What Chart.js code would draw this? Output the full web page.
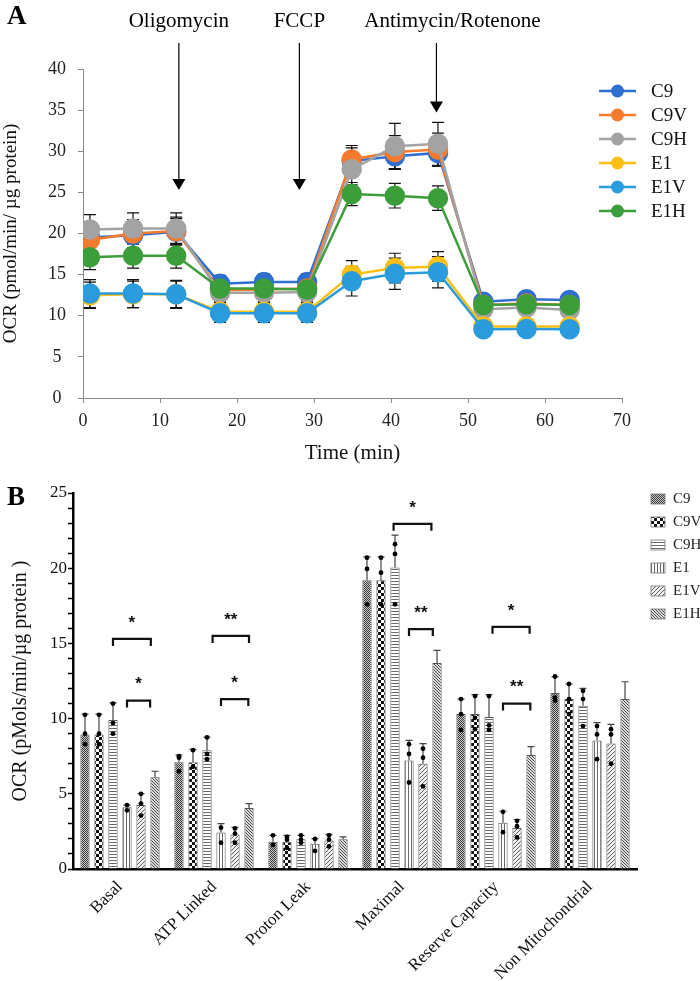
<!DOCTYPE html>
<html>
<head>
<meta charset="utf-8">
<script src="https://cdn.jsdelivr.net/npm/chart.js@4.4.1/dist/chart.umd.min.js"></script>
<style>
  body { margin: 0; background: #fff; }
  canvas { display: block; }
</style>
</head>
<body>
<canvas id="ocrTimeChart" width="700" height="470"></canvas>
<canvas id="ocrBarChart" width="700" height="511"></canvas>
<script>
// ---------- panel A data ----------
const timeMin = [0.9, 6.5, 12.1, 17.8, 23.5, 29.1, 34.9, 40.5, 46.1, 52.0, 57.6, 63.2];
const seriesNames = ["C9", "C9V", "C9H", "E1", "E1V", "E1H"];
const ocrC9  = [19.5, 19.8, 20.2, 13.9, 14.1, 14.1, 28.8, 29.4, 29.8, 11.7, 12.0, 11.9];
const ocrC9V = [19.2, 20.0, 20.3, 13.1, 13.2, 13.3, 29.0, 29.9, 30.2, 11.3, 11.5, 11.3];
const ocrC9H = [20.5, 20.6, 20.6, 12.8, 12.8, 12.9, 27.8, 30.6, 30.9, 10.8, 11.0, 10.7];
const ocrE1  = [12.5, 12.6, 12.6, 10.5, 10.5, 10.5, 15.0, 15.8, 16.0, 8.7, 8.7, 8.7];
const ocrE1V = [12.7, 12.7, 12.6, 10.3, 10.3, 10.3, 14.2, 15.1, 15.3, 8.35, 8.4, 8.35];
const ocrE1H = [17.1, 17.3, 17.3, 13.3, 13.3, 13.2, 24.8, 24.6, 24.3, 11.3, 11.4, 11.3];
const sdC9  = [1.6, 1.6, 1.6, 1.0, 1.0, 1.0, 1.6, 1.6, 1.6, 0.7, 0.7, 0.7];
const sdC9V = [1.7, 1.7, 1.7, 1.0, 1.0, 1.0, 1.7, 2.0, 2.0, 0.7, 0.7, 0.7];
const sdC9H = [1.8, 1.9, 1.9, 1.1, 1.1, 1.1, 1.9, 2.8, 2.6, 0.8, 0.8, 0.8];
const sdE1  = [1.6, 1.6, 1.6, 1.1, 1.1, 1.1, 1.7, 1.8, 1.8, 0.6, 0.6, 0.6];
const sdE1V = [1.7, 1.7, 1.7, 1.1, 1.1, 1.1, 1.8, 1.9, 1.9, 0.6, 0.6, 0.6];
const sdE1H = [1.5, 1.5, 1.5, 0.9, 0.9, 0.9, 1.4, 1.5, 1.5, 0.6, 0.6, 0.6];
const injectionLabels = ["Oligomycin", "FCCP", "Antimycin/Rotenone"];
const injectionTimes = [12.45, 28.1, 45.9];
const arrowTips = [25.3, 25.3, 34.7];

// ---------- panel B data ----------
const categories = ["Basal", "ATP Linked", "Proton Leak", "Maximal", "Reserve Capacity", "Non Mitochondrial"];
const barC9  = [8.95, 7.1, 1.82, 19.2, 10.3, 11.7];
const barC9V = [8.95, 7.1, 1.82, 19.2, 10.3, 11.3];
const barC9H = [9.9, 7.9, 1.97, 20.05, 10.1, 10.85];
const barE1  = [4.1, 2.42, 1.68, 7.22, 3.07, 8.55];
const barE1V = [4.25, 2.3, 1.9, 7.0, 2.73, 8.35];
const barE1H = [6.1, 4.06, 1.97, 13.7, 7.58, 11.3];
const errC9  = [1.35, 0.48, 0.42, 1.55, 1.0, 1.07];
const errC9V = [1.35, 0.85, 0.42, 1.55, 1.3, 1.0];
const errC9H = [1.14, 0.87, 0.27, 2.15, 1.5, 1.16];
const errE1  = [0.15, 0.6, 0.34, 1.33, 0.77, 1.18];
const errE1V = [0.76, 0.47, 0.4, 1.33, 0.56, 1.27];
const errE1H = [0.4, 0.29, 0.16, 0.84, 0.55, 1.15];
const dotsC9  = [[10.25, 9.0, 8.3], [7.5, 7.4, 6.5], [2.24, 1.6], [20.7, 19.95, 17.6], [11.3, 10.3, 9.25], [12.8, 11.4, 11.2]];
const dotsC9V = [[10.25, 9.0, 8.3], [7.9, 6.8], [2.13, 1.95, 1.4], [20.7, 19.7, 17.6], [11.5, 10.05, 9.3], [12.3, 11.3, 10.3]];
const dotsC9H = [[11.0, 9.7, 9.0], [8.75, 7.65, 7.3], [2.24, 1.95, 1.75], [21.6, 20.95, 17.6], [11.5, 9.55, 9.25], [11.85, 11.3, 9.5]];
const dotsE1  = [[4.25, 3.9], [2.75, 1.75], [2.0, 1.2], [8.3, 7.65, 5.75], [3.8, 2.45], [9.5, 8.95, 7.3]];
const dotsE1V = [[5.0, 4.35, 3.55], [2.7, 2.35, 1.75], [2.24, 1.95, 1.5], [8.0, 7.4, 5.5], [3.2, 2.85, 2.1], [9.3, 8.95, 7.0]];
const dotsE1H = [[], [], [], [], [], []];
// [category, from series, to series, height, mark]
const brackets = [
	[0, 2.0, 4.7, 15.3, "*"],
	[0, 3.0, 4.65, 11.2, "*"],
	[1, 2.4, 5.0, 15.5, "**"],
	[1, 3.0, 4.95, 11.3, "*"],
	[3, 1.9, 4.6, 22.95, "*"],
	[3, 3.0, 4.7, 15.95, "**"],
	[4, 2.25, 4.9, 16.1, "*"],
	[4, 3.0, 4.95, 11.0, "**"],
];

const serif = "'Liberation Serif', 'Times New Roman', serif";
const lineColors = ["#2e6fd0", "#f47a2e", "#a3a3a3", "#fcbf14", "#2a9bdc", "#3c9e3a"];

// ---------- panel A ----------
const ocrSeries = [ocrC9, ocrC9V, ocrC9H, ocrE1, ocrE1V, ocrE1H];
const sdSeries = [sdC9, sdC9V, sdC9H, sdE1, sdE1V, sdE1H];

const timeDatasets = seriesNames.map((name, k) => ({
	label: name,
	data: timeMin.map((t, i) => ({ x: t, y: ocrSeries[k][i] })),
	sd: sdSeries[k],
	borderColor: lineColors[k],
	backgroundColor: lineColors[k],
	pointBackgroundColor: lineColors[k],
	pointBorderColor: lineColors[k],
	borderWidth: 2.5,
	pointRadius: 9,
	pointHoverRadius: 9,
	order: seriesNames.length - k,
}));

const errorBarsA = {
	id: "errorBarsA",
	beforeDatasetsDraw(chart) {
		const { ctx, scales: { x, y } } = chart;
		ctx.save();
		ctx.strokeStyle = "#111";
		ctx.lineWidth = 1.2;
		chart.data.datasets.forEach((ds) => {
			ds.data.forEach((p, i) => {
				const px = x.getPixelForValue(p.x);
				const hi = y.getPixelForValue(p.y + ds.sd[i]);
				const lo = y.getPixelForValue(p.y - ds.sd[i]);
				ctx.beginPath();
				ctx.moveTo(px, hi); ctx.lineTo(px, lo);
				ctx.moveTo(px - 6, hi); ctx.lineTo(px + 6, hi);
				ctx.moveTo(px - 6, lo); ctx.lineTo(px + 6, lo);
				ctx.stroke();
			});
		});
		ctx.restore();
	},
};

const decorA = {
	id: "decorA",
	afterDraw(chart) {
		const { ctx, scales: { x, y } } = chart;
		ctx.save();
		ctx.fillStyle = "#000";
		ctx.font = "bold 27px " + serif;
		ctx.textBaseline = "alphabetic";
		ctx.textAlign = "left";
		ctx.fillText("A", 7, 24);

		// injections
		ctx.font = "21px " + serif;
		ctx.textAlign = "center";
		ctx.strokeStyle = "#000";
		ctx.lineWidth = 1.2;
		injectionLabels.forEach((label, i) => {
			const px = x.getPixelForValue(injectionTimes[i]);
			const tip = y.getPixelForValue(arrowTips[i]);
			ctx.fillText(label, px + (i === 2 ? 16 : 0), 27);
			ctx.beginPath();
			ctx.moveTo(px, 43);
			ctx.lineTo(px, tip - 10);
			ctx.stroke();
			ctx.beginPath();
			ctx.moveTo(px - 6.5, tip - 11);
			ctx.lineTo(px + 6.5, tip - 11);
			ctx.lineTo(px, tip);
			ctx.closePath();
			ctx.fill();
		});

		// legend
		ctx.font = "19px " + serif;
		ctx.textAlign = "left";
		ctx.textBaseline = "middle";
		chart.data.datasets.forEach((ds, k) => {
			const ly = 91 + k * 24;
			ctx.strokeStyle = ds.borderColor;
			ctx.lineWidth = 2.5;
			ctx.beginPath();
			ctx.moveTo(599, ly); ctx.lineTo(636, ly);
			ctx.stroke();
			ctx.fillStyle = ds.borderColor;
			ctx.beginPath();
			ctx.arc(617.5, ly, 6.5, 0, Math.PI * 2);
			ctx.fill();
			ctx.fillStyle = "#111";
			ctx.fillText(ds.label, 651, ly + 1);
		});
		ctx.restore();
	},
};

new Chart(document.getElementById("ocrTimeChart").getContext("2d"), {
	type: "line",
	data: { datasets: timeDatasets },
	options: {
		responsive: false,
		animation: false,
		layout: { padding: { left: 0, top: 69, right: 78, bottom: 0 } },
		plugins: { legend: { display: false }, tooltip: { enabled: false } },
		scales: {
			x: {
				type: "linear",
				min: 0,
				max: 70,
				afterFit: (s) => { s.height = 72; },
				ticks: { stepSize: 10, color: "#222", font: { family: serif, size: 18 }, padding: 7 },
				grid: { drawOnChartArea: false, color: "#8a8a8a", tickLength: 5 },
				border: { color: "#8a8a8a", width: 1 },
				title: { display: true, text: "Time (min)", color: "#111", font: { family: serif, size: 21 }, padding: { top: 0, bottom: 4 } },
			},
			y: {
				min: 0,
				max: 40,
				afterFit: (s) => { s.width = 83; },
				ticks: { stepSize: 5, color: "#222", crossAlign: "center", font: { family: serif, size: 18 }, padding: 12 },
				grid: { drawOnChartArea: false, color: "#8a8a8a", tickLength: 5 },
				border: { color: "#8a8a8a", width: 1 },
				title: { display: true, text: "OCR (pmol/min/ µg protein)", color: "#111", font: { family: serif, size: 19 }, padding: { top: 0, bottom: 0 } },
			},
		},
	},
	plugins: [errorBarsA, decorA],
});

// ---------- panel B ----------
function makePattern(size, bg, fg, cells) {
	const c = document.createElement("canvas");
	c.width = size; c.height = size;
	const g = c.getContext("2d");
	g.fillStyle = bg;
	g.fillRect(0, 0, size, size);
	g.fillStyle = fg;
	cells.forEach(([cx, cy, w, h]) => g.fillRect(cx, cy, w || 1, h || 1));
	return g.createPattern(c, "repeat");
}

const barFills = [
	makePattern(2, "#c8c8c8", "#3a3a3a", [[0, 0], [1, 1]]),
	makePattern(6, "#ffffff", "#111111", [[0, 0, 3, 3], [3, 3, 3, 3]]),
	makePattern(3, "#ffffff", "#6a6a6a", [[0, 0, 3, 1]]),
	makePattern(3, "#ffffff", "#6a6a6a", [[0, 0, 1, 3]]),
	makePattern(4, "#f2f2f2", "#5a5a5a", [[3, 0], [2, 1], [1, 2], [0, 3]]),
	makePattern(3, "#dcdcdc", "#4a4a4a", [[0, 0], [1, 1], [2, 2]]),
];

const barSeries = [barC9, barC9V, barC9H, barE1, barE1V, barE1H];
const errSeries = [errC9, errC9V, errC9H, errE1, errE1V, errE1H];
const dotSeries = [dotsC9, dotsC9V, dotsC9H, dotsE1, dotsE1V, dotsE1H];

const barDatasets = seriesNames.map((name, k) => ({
	label: name,
	data: barSeries[k],
	errUp: errSeries[k],
	dots: dotSeries[k],
	backgroundColor: barFills[k],
	borderColor: "#555",
	borderWidth: 1,
	categoryPercentage: 0.894,
	barPercentage: 0.66,
}));

const extrasB = {
	id: "extrasB",
	afterDatasetsDraw(chart) {
		const { ctx, scales: { y } } = chart;
		ctx.save();
		chart.data.datasets.forEach((ds, k) => {
			const meta = chart.getDatasetMeta(k);
			meta.data.forEach((bar, c) => {
				const top = y.getPixelForValue(ds.data[c]);
				const cap = y.getPixelForValue(ds.data[c] + ds.errUp[c]);
				ctx.strokeStyle = "#444";
				ctx.lineWidth = 1.2;
				ctx.beginPath();
				ctx.moveTo(bar.x, top); ctx.lineTo(bar.x, cap);
				ctx.moveTo(bar.x - 3.5, cap); ctx.lineTo(bar.x + 3.5, cap);
				ctx.stroke();
				ctx.fillStyle = "#000";
				ds.dots[c].forEach((v) => {
					ctx.beginPath();
					ctx.arc(bar.x, y.getPixelForValue(v), 2.4, 0, Math.PI * 2);
					ctx.fill();
				});
			});
		});

		// significance brackets
		const xAt = (c, idx) => {
			const i0 = Math.floor(idx), i1 = Math.min(i0 + 1, 5);
			const a = chart.getDatasetMeta(i0).data[c].x;
			const b = chart.getDatasetMeta(i1).data[c].x;
			return a + (b - a) * (idx - i0);
		};
		ctx.strokeStyle = "#111";
		ctx.lineWidth = 2.2;
		ctx.fillStyle = "#111";
		ctx.font = "bold 17px 'Liberation Sans', Arial, sans-serif";
		ctx.textAlign = "center";
		ctx.textBaseline = "middle";
		brackets.forEach(([c, from, to, val, mark]) => {
			const x0 = xAt(c, from), x1 = xAt(c, to);
			const by = y.getPixelForValue(val);
			ctx.beginPath();
			ctx.moveTo(x0, by + 7); ctx.lineTo(x0, by); ctx.lineTo(x1, by); ctx.lineTo(x1, by + 7);
			ctx.stroke();
			ctx.fillText(mark, (x0 + x1) / 2, by - 16);
		});
		ctx.restore();
	},
	afterDraw(chart) {
		const { ctx } = chart;
		ctx.save();
		ctx.fillStyle = "#000";
		ctx.font = "bold 27px " + serif;
		ctx.textAlign = "left";
		ctx.textBaseline = "alphabetic";
		ctx.fillText("B", 7, 35);

		ctx.font = "15px " + serif;
		ctx.textBaseline = "middle";
		chart.data.datasets.forEach((ds, k) => {
			const ly = 29 + k * 23;
			ctx.fillStyle = ds.backgroundColor;
			ctx.fillRect(651, ly - 5, 14, 10);
			ctx.strokeStyle = "#777";
			ctx.lineWidth = 0.8;
			ctx.strokeRect(651, ly - 5, 14, 10);
			ctx.fillStyle = "#222";
			ctx.fillText(ds.label, 673, ly);
		});
		ctx.restore();
	},
};

new Chart(document.getElementById("ocrBarChart").getContext("2d"), {
	type: "bar",
	data: { labels: categories, datasets: barDatasets },
	options: {
		responsive: false,
		animation: false,
		layout: { padding: { left: 0, top: 23, right: 63, bottom: 0 } },
		plugins: { legend: { display: false }, tooltip: { enabled: false } },
		scales: {
			x: {
				afterFit: (s) => { s.height = 112; },
				ticks: { color: "#111", maxRotation: 45, minRotation: 45, padding: 0, font: { family: serif, size: 17 } },
				grid: { display: false },
				border: { display: true, color: "#000", width: 2.5 },
			},
			y: {
				min: 0,
				max: 25,
				afterFit: (s) => { s.width = 73; },
				ticks: {
					stepSize: 1,
					autoSkip: false,
					color: "#111",
					padding: 1,
					font: { family: serif, size: 17 },
					callback: (v) => (v % 5 === 0 ? v : ""),
				},
				grid: { drawOnChartArea: false, color: "#000", tickLength: 5, tickWidth: 1.5 },
				border: { color: "#000", width: 2.5 },
				title: { display: true, text: "OCR (pMols/min/µg protein )", color: "#111", font: { family: serif, size: 20 }, padding: { top: 9, bottom: 0 } },
			},
		},
	},
	plugins: [extrasB],
});
</script>
</body>
</html>
